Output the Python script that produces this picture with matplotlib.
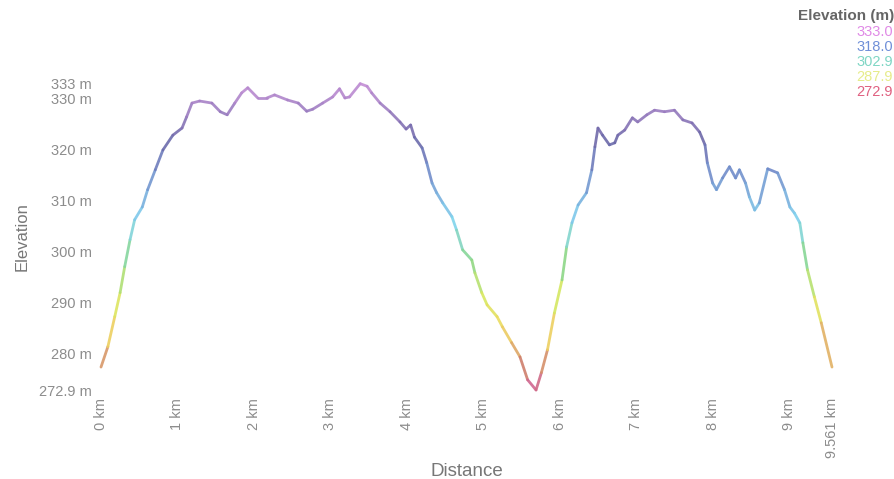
import numpy as np
import matplotlib
matplotlib.use("Agg")
import matplotlib.pyplot as plt
from matplotlib.collections import LineCollection
from matplotlib.colors import LinearSegmentedColormap, Normalize

plt.rcParams['font.family'] = ['Liberation Sans', 'DejaVu Sans']

# Profile data (distance in km, elevation in m)
distance_km = [
    0.00, 0.09, 0.18, 0.25, 0.31, 0.38, 0.44, 0.54, 0.61, 0.71, 0.81, 0.94,
    1.06, 1.12, 1.19, 1.29, 1.45, 1.56, 1.65, 1.75, 1.84, 1.92, 2.05, 2.17,
    2.27, 2.44, 2.58, 2.69, 2.77, 2.90, 3.03, 3.12, 3.19, 3.25, 3.39, 3.48,
    3.54, 3.65, 3.78, 3.91, 3.99, 4.05, 4.10, 4.20, 4.26, 4.33, 4.39, 4.47,
    4.59, 4.65, 4.73, 4.85, 4.89, 4.98, 5.05, 5.18, 5.25, 5.37, 5.48, 5.58,
    5.69, 5.76, 5.84, 5.93, 6.03, 6.09, 6.16, 6.24, 6.35, 6.42, 6.46, 6.50,
    6.56, 6.65, 6.72, 6.76, 6.85, 6.95, 7.02, 7.14, 7.24, 7.37, 7.50, 7.61,
    7.73, 7.83, 7.90, 7.93, 8.00, 8.05, 8.13, 8.22, 8.30, 8.35, 8.43, 8.48,
    8.55, 8.61, 8.72, 8.85, 8.94, 9.01, 9.07, 9.14, 9.18, 9.24, 9.33, 9.42,
    9.561,
]
elevation_m = [
    277.4, 281.4, 287.3, 292.0, 297.1, 302.4, 306.3, 308.8, 312.2, 316.1, 320.0, 322.9,
    324.3, 326.5, 329.2, 329.6, 329.2, 327.5, 326.9, 329.2, 331.2, 332.2, 330.2, 330.2,
    330.8, 329.8, 329.2, 327.6, 328.0, 329.2, 330.4, 332.0, 330.2, 330.4, 333.0, 332.5,
    331.2, 329.2, 327.5, 325.5, 324.1, 324.9, 322.5, 320.4, 317.5, 313.5, 311.6, 309.6,
    306.9, 304.3, 300.4, 298.4, 295.9, 292.0, 289.6, 287.3, 285.3, 282.2, 279.4, 274.9,
    272.9, 276.3, 280.8, 288.0, 294.5, 301.0, 305.7, 309.2, 311.6, 316.1, 320.6, 324.3,
    322.9, 321.0, 321.4, 322.9, 323.9, 326.3, 325.5, 326.9, 327.8, 327.5, 327.8, 325.9,
    325.3, 323.5, 321.0, 317.5, 313.5, 312.2, 314.5, 316.7, 314.5, 316.1, 313.5, 310.8,
    308.2, 309.6, 316.3, 315.5, 312.2, 308.8, 307.6, 305.7, 301.8, 296.5, 291.2, 286.1,
    277.4,
]

x_ticks = [0, 1, 2, 3, 4, 5, 6, 7, 8, 9, 9.561]
x_tick_labels = ["0 km", "1 km", "2 km", "3 km", "4 km", "5 km", "6 km",
                 "7 km", "8 km", "9 km", "9.561 km"]
y_ticks = [272.9, 280, 290, 300, 310, 320, 330, 333]
y_tick_labels = ["272.9 m", "280 m", "290 m", "300 m", "310 m", "320 m",
                 "330 m", "333 m"]

legend_values = ["333.0", "318.0", "302.9", "287.9", "272.9"]
legend_colors = ["#e08ae6", "#6f8fd8", "#7fd6c4", "#e6ec8a", "#e06080"]

ymin, ymax = 272.9, 333.0

cmap = LinearSegmentedColormap.from_list("elev", [
    (0.00, "#d0609a"),
    (0.07, "#cf7f6c"),
    (0.20, "#f0d860"),
    (0.30, "#d8e860"),
    (0.42, "#88d68a"),
    (0.55, "#80d4f0"),
    (0.72, "#7088c8"),
    (0.82, "#6c68a8"),
    (1.00, "#c58fd6"),
])

W, H = 894, 479
fig = plt.figure(figsize=(W / 100, H / 100), dpi=100)
ax = fig.add_axes([101 / W, 1 - 390 / H, 731 / W, (390 - 83.7) / H])

x = np.array(distance_km)
y = np.array(elevation_m)
pts = np.column_stack([x, y]).reshape(-1, 1, 2)
segs = np.concatenate([pts[:-1], pts[1:]], axis=1)
mid = (y[:-1] + y[1:]) / 2
lc = LineCollection(segs, cmap=cmap, norm=Normalize(ymin, ymax),
                    linewidths=2.0, capstyle='round', joinstyle='round',
                    alpha=0.9)
lc.set_array(mid)
lc.set_clip_on(False)
ax.add_collection(lc)

ax.set_xlim(0, 9.561)
ax.set_ylim(ymin, ymax)
for s in ax.spines.values():
    s.set_visible(False)

ax.set_xticks(x_ticks)
ax.set_xticklabels(x_tick_labels, rotation=90, va='top', ha='center')
ax.set_yticks(y_ticks)
ax.set_yticklabels(y_tick_labels)
ax.tick_params(axis='both', length=0, labelsize=10.5, labelcolor='#8c8c8c')
ax.tick_params(axis='x', pad=5.5)
ax.tick_params(axis='y', pad=6.5)

ax.set_xlabel("Distance", fontsize=13.5, color='#777777', labelpad=4)
ax.set_ylabel("Elevation", fontsize=12, color='#777777', labelpad=7)

fig.text(798 / W, 1 - 16 / H, "Elevation (m)", fontsize=11, fontweight='bold',
         color='#666666', ha='left', va='center')
for i, (v, c) in enumerate(zip(legend_values, legend_colors)):
    fig.text(893 / W, 1 - (32 + i * 15) / H, v, fontsize=10.5,
             color=c, ha='right', va='center')

fig.savefig("out.png", dpi=100)
